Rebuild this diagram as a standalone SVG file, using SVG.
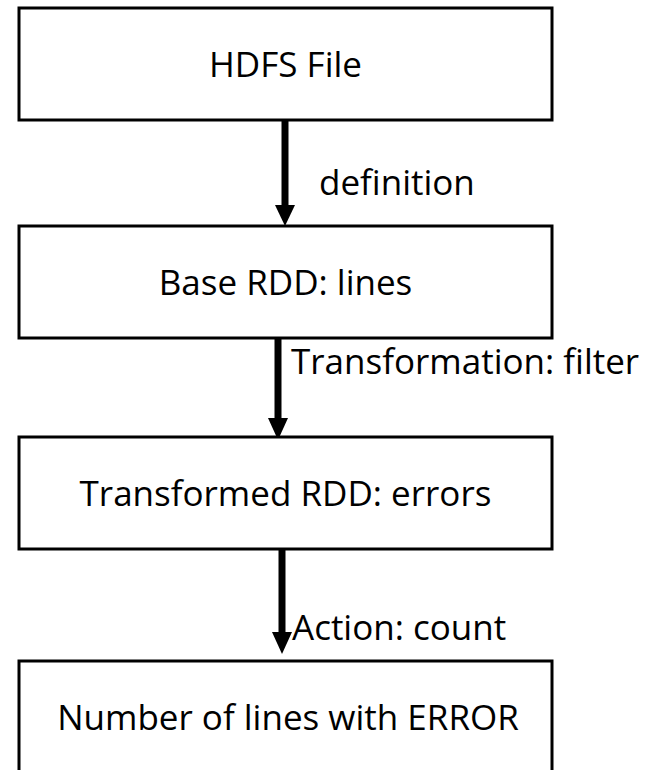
<svg xmlns="http://www.w3.org/2000/svg" width="653" height="770" viewBox="0 0 653 770">
<style>
.box{fill:#fff;stroke:#000;stroke-width:3}
.t{font-family:"Open Sans","Noto Sans",sans-serif;font-size:35px;fill:#000;text-anchor:middle}
.l{font-family:"Open Sans","Noto Sans",sans-serif;font-size:35px;fill:#000}
.c{stroke:#000;stroke-width:7;fill:none}
.h{fill:#000}
</style>
<rect width="653" height="770" fill="#fff"/>
<g id="connectors">
<line class="c" x1="285" y1="120" x2="285" y2="206"/>
<polygon class="h" points="275,205 295,205 285,226"/>
<text class="l" x="319" y="195">definition</text>
<line class="c" x1="278" y1="338" x2="278" y2="419"/>
<polygon class="h" points="268,418 288,418 278,440"/>
<text class="l" x="291" y="374">Transformation: filter</text>
<line class="c" x1="282" y1="549" x2="282" y2="633"/>
<polygon class="h" points="272,632 292,632 282,654"/>
<text class="l" x="292" y="640">Action: count</text>
</g>
<g id="hdfs"><rect class="box" x="19" y="8" width="533" height="112"/><text class="t" x="285.5" y="77">HDFS File</text></g>
<g id="base"><rect class="box" x="19" y="226" width="533" height="112"/><text class="t" x="285.5" y="295">Base RDD: lines</text></g>
<g id="transformed"><rect class="box" x="19" y="437" width="533" height="112"/><text class="t" x="285.5" y="506">Transformed RDD: errors</text></g>
<g id="count"><rect class="box" x="19" y="661" width="533" height="120"/><text class="t" x="288" y="730">Number of lines with ERROR</text></g>
</svg>
